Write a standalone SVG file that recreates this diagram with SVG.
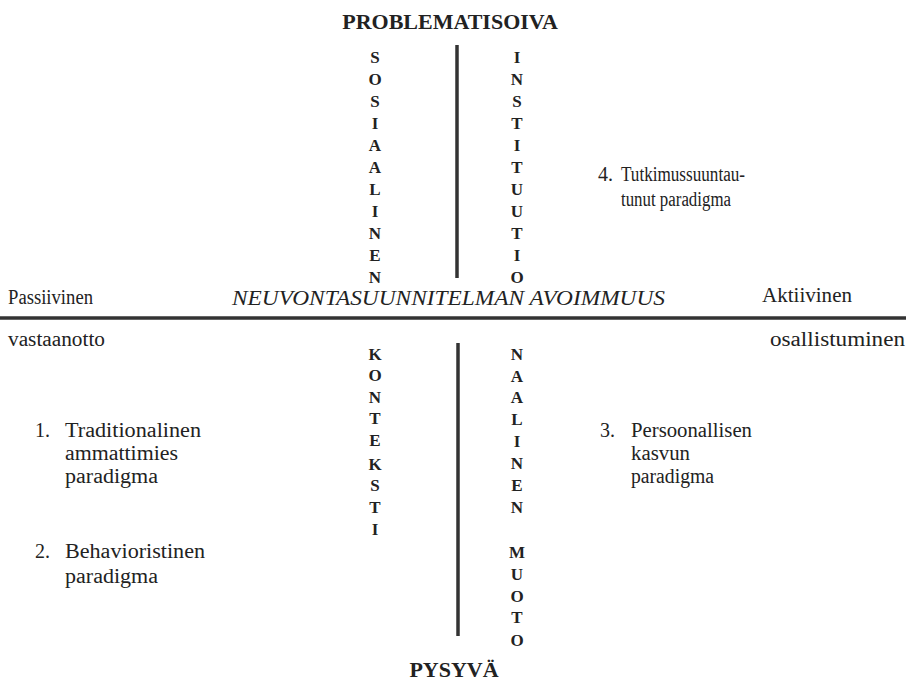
<svg xmlns="http://www.w3.org/2000/svg" width="906" height="691" viewBox="0 0 906 691">
<style>
.t{font-family:"Liberation Serif","DejaVu Serif",serif;font-size:20px;fill:#222}
.h{font-family:"Liberation Serif","DejaVu Serif",serif;font-size:22px;font-weight:bold;fill:#222}
.l{font-family:"Liberation Serif","DejaVu Serif",serif;font-size:17px;font-weight:bold;fill:#222;text-anchor:middle}
.ax{stroke:#333;stroke-width:3.5}
</style>
<rect width="906" height="691" fill="#fff"/>
<g id="connectors">
<line class="ax" x1="457" y1="45" x2="457" y2="278"/>
<line class="ax" x1="458" y1="343" x2="458" y2="636"/>
<line class="ax" x1="0" y1="318" x2="906" y2="318" stroke-width="4"/>
</g>
<g id="top"><text class="h" x="450" y="29" text-anchor="middle">PROBLEMATISOIVA</text></g>
<g id="bottom"><text class="h" x="454" y="677" text-anchor="middle">PYSYVÄ</text></g>
<g id="sosiaalinen">
<text class="l" x="375" y="63">S</text><text class="l" x="375" y="85">O</text><text class="l" x="375" y="107">S</text><text class="l" x="375" y="129">I</text><text class="l" x="375" y="151">A</text><text class="l" x="375" y="173">A</text><text class="l" x="375" y="195">L</text><text class="l" x="375" y="217">I</text><text class="l" x="375" y="239">N</text><text class="l" x="375" y="261">E</text><text class="l" x="375" y="283">N</text>
</g>
<g id="institutio">
<text class="l" x="517" y="63">I</text><text class="l" x="517" y="85">N</text><text class="l" x="517" y="107">S</text><text class="l" x="517" y="129">T</text><text class="l" x="517" y="151">I</text><text class="l" x="517" y="173">T</text><text class="l" x="517" y="195">U</text><text class="l" x="517" y="217">U</text><text class="l" x="517" y="239">T</text><text class="l" x="517" y="261">I</text><text class="l" x="517" y="283">O</text>
</g>
<g id="konteksti">
<text class="l" x="375" y="360">K</text><text class="l" x="375" y="381">O</text><text class="l" x="375" y="403">N</text><text class="l" x="375" y="424">T</text><text class="l" x="375" y="446">E</text><text class="l" x="375" y="470">K</text><text class="l" x="375" y="491">S</text><text class="l" x="375" y="513">T</text><text class="l" x="375" y="535">I</text>
</g>
<g id="naalinen-muoto">
<text class="l" x="517" y="360">N</text><text class="l" x="517" y="382">A</text><text class="l" x="517" y="403">A</text><text class="l" x="517" y="425">L</text><text class="l" x="517" y="447">I</text><text class="l" x="517" y="469">N</text><text class="l" x="517" y="491">E</text><text class="l" x="517" y="513">N</text>
<text class="l" x="517" y="558">M</text><text class="l" x="517" y="580">U</text><text class="l" x="517" y="602">O</text><text class="l" x="517" y="623">T</text><text class="l" x="517" y="646">O</text>
</g>
<g id="axis-labels">
<text class="t" x="8" y="304" textLength="85" lengthAdjust="spacingAndGlyphs">Passiivinen</text>
<text class="t" x="232" y="305" font-style="italic" textLength="433" lengthAdjust="spacingAndGlyphs">NEUVONTASUUNNITELMAN AVOIMMUUS</text>
<text class="t" x="762" y="302" textLength="90" lengthAdjust="spacingAndGlyphs">Aktiivinen</text>
<text class="t" x="8" y="346" textLength="97" lengthAdjust="spacingAndGlyphs">vastaanotto</text>
<text class="t" x="770" y="346" textLength="135" lengthAdjust="spacingAndGlyphs">osallistuminen</text>
</g>
<g id="p4"><text class="t" x="598" y="181">4.</text><text class="t" x="621" y="181" textLength="124" lengthAdjust="spacingAndGlyphs">Tutkimussuuntau-</text><text class="t" x="621" y="206" textLength="110" lengthAdjust="spacingAndGlyphs">tunut paradigma</text></g>
<g id="p1"><text class="t" x="35" y="437">1.</text><text class="t" x="65" y="437" textLength="136" lengthAdjust="spacingAndGlyphs">Traditionalinen</text><text class="t" x="65" y="460" textLength="113" lengthAdjust="spacingAndGlyphs">ammattimies</text><text class="t" x="65" y="483" textLength="93" lengthAdjust="spacingAndGlyphs">paradigma</text></g>
<g id="p2"><text class="t" x="35" y="558">2.</text><text class="t" x="65" y="558" textLength="140" lengthAdjust="spacingAndGlyphs">Behavioristinen</text><text class="t" x="65" y="583" textLength="93" lengthAdjust="spacingAndGlyphs">paradigma</text></g>
<g id="p3"><text class="t" x="600" y="437">3.</text><text class="t" x="631" y="437" textLength="121" lengthAdjust="spacingAndGlyphs">Persoonallisen</text><text class="t" x="631" y="460" textLength="59" lengthAdjust="spacingAndGlyphs">kasvun</text><text class="t" x="631" y="483" textLength="83" lengthAdjust="spacingAndGlyphs">paradigma</text></g>
</svg>
